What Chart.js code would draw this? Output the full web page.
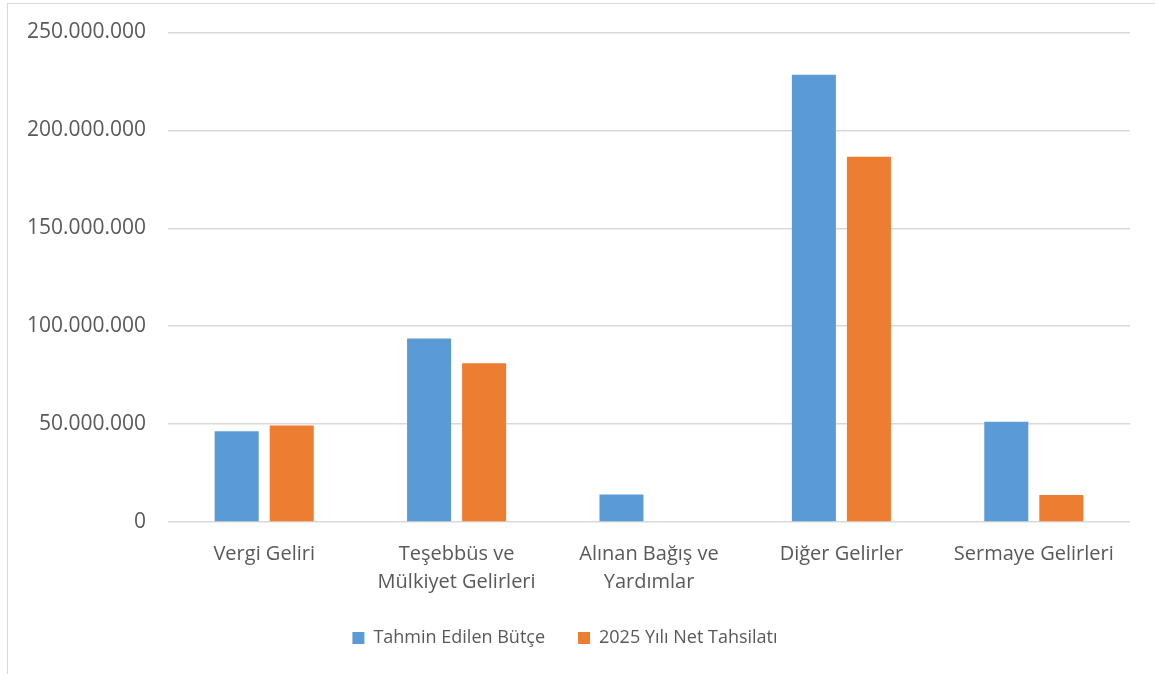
<!DOCTYPE html>
<html>
<head>
<meta charset="utf-8">
<script src="https://cdn.jsdelivr.net/npm/chart.js@4"></script>
<style>
    html, body { margin: 0; padding: 0; background: white; overflow: hidden; }
    #frame { position: absolute; left: 7px; top: 3px; width: 1170px; height: 690px; border: 1px solid #d9d9d9; }
    #wrap { position: absolute; left: 0; top: 0; width: 1155px; height: 674px; }
</style>
</head>
<body>
<div id="frame"></div>
<div id="wrap"><canvas id="chart"></canvas></div>
<script>
// Data
const categories = [
    'Vergi Geliri',
    ['Teşebbüs ve', 'Mülkiyet Gelirleri'],
    ['Alınan Bağış ve', 'Yardımlar'],
    'Diğer Gelirler',
    'Sermaye Gelirleri'
];
const seriesNames = ['Tahmin Edilen Bütçe', '2025 Yılı Net Tahsilatı'];
const budget = [46300000, 93700000, 14100000, 228400000, 51200000];
const collected = [49300000, 81100000, 0, 186600000, 13800000];

const textColor = '#595959';
const fontFamily = '"Open Sans", "Noto Sans", sans-serif';

const fmt = v => String(Math.round(v)).replace(/\B(?=(\d{3})+(?!\d))/g, '.');

new Chart(document.getElementById('chart'), {
    type: 'bar',
    data: {
        labels: categories,
        datasets: [
            { label: seriesNames[0], data: budget, backgroundColor: '#5B9BD5', barPercentage: 0.8, categoryPercentage: 0.572 },
            { label: seriesNames[1], data: collected, backgroundColor: '#ED7D31', barPercentage: 0.8, categoryPercentage: 0.572 }
        ]
    },
    options: {
        responsive: true,
        maintainAspectRatio: false,
        animation: false,
        layout: { padding: { left: 0, right: 25, top: 10, bottom: 17 } },
        scales: {
            x: {
                afterFit: s => { s.height = 74; },
                grid: { display: false },
                border: { display: false },
                ticks: { color: textColor, font: { family: fontFamily, size: 20, lineHeight: 1.4 }, padding: 10, maxRotation: 0, autoSkip: false }
            },
            y: {
                min: 0,
                max: 250000000,
                afterFit: s => { s.width = 168; },
                border: { display: false },
                grid: { color: '#d9d9d9', lineWidth: 1.5, drawTicks: false },
                ticks: { stepSize: 50000000, color: textColor, padding: 22, font: { family: fontFamily, size: 21, lineHeight: 1.0 }, callback: v => fmt(v) }
            }
        },
        plugins: {
            legend: {
                position: 'bottom',
                labels: { color: textColor, boxWidth: 12, boxHeight: 12, padding: 33, font: { family: fontFamily, size: 18 } }
            },
            tooltip: { enabled: false }
        }
    }
});
</script>
</body>
</html>
